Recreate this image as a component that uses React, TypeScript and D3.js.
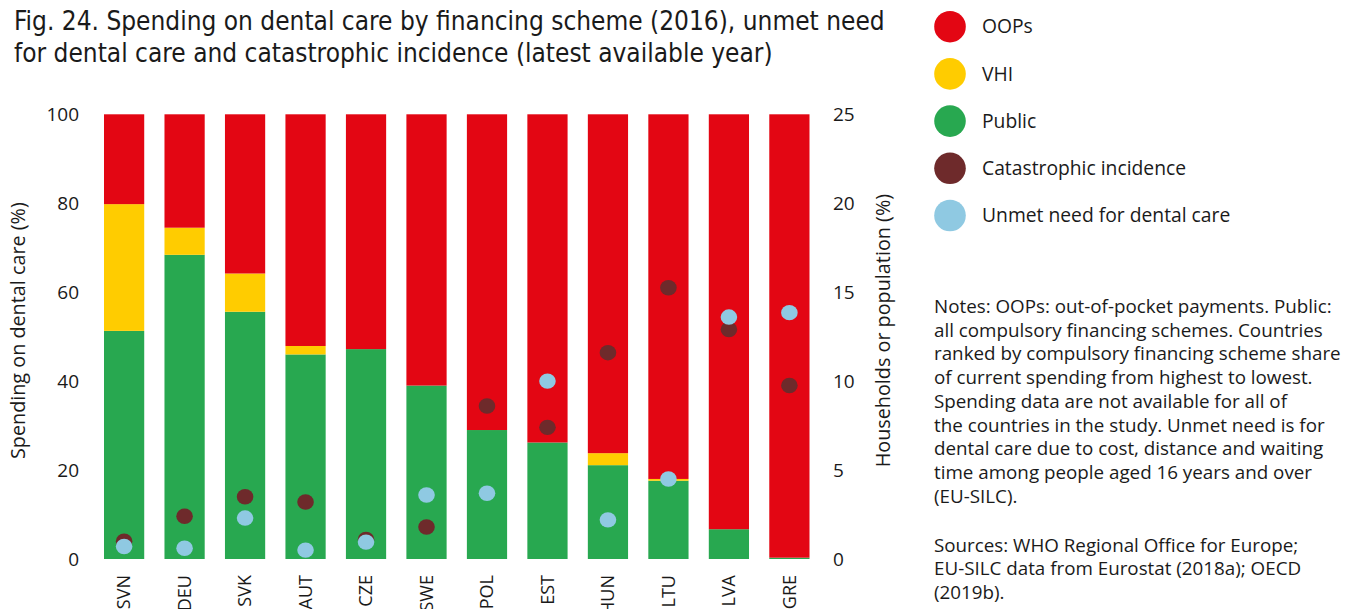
import * as d3 from "d3";

const countries = ["SVN", "DEU", "SVK", "AUT", "CZE", "SWE", "POL", "EST", "HUN", "LTU", "LVA", "GRE"];
const publicShare = [51.3, 68.4, 55.6, 46.0, 47.2, 39.0, 29.0, 26.2, 21.1, 17.6, 6.7, 0.3];
const vhiShare = [28.5, 6.1, 8.6, 1.9, 0, 0, 0, 0, 2.7, 0.4, 0, 0];
const oopsShare = [20.2, 25.5, 35.8, 52.1, 52.8, 61.0, 71.0, 73.8, 76.2, 82.0, 93.3, 99.7];
const catastrophic = [1.0, 2.4, 3.5, 3.2, 1.1, 1.8, 8.6, 7.4, 11.6, 15.25, 12.9, 9.75];
const unmetNeed = [0.7, 0.6, 2.3, 0.5, 0.95, 3.6, 3.7, 10.0, 2.2, 4.5, 13.6, 13.85];

const leftTicks = [0, 20, 40, 60, 80, 100];
const rightTicks = [0, 5, 10, 15, 20, 25];

const titleLines = [
  "Fig. 24. Spending on dental care by financing scheme (2016), unmet need",
  "for dental care and catastrophic incidence (latest available year)",
];

const noteLines = [
  "Notes: OOPs: out-of-pocket payments. Public:",
  "all compulsory financing schemes. Countries",
  "ranked by compulsory financing scheme share",
  "of current spending from highest to lowest.",
  "Spending data are not available for all of",
  "the countries in the study. Unmet need is for",
  "dental care due to cost, distance and waiting",
  "time among people aged 16 years and over",
  "(EU-SILC).",
];
const sourceLines = [
  "Sources: WHO Regional Office for Europe;",
  "EU-SILC data from Eurostat (2018a); OECD",
  "(2019b).",
];

const COLORS = {
  oops: "#E30613",
  vhi: "#FFCC00",
  public: "#28A850",
  cat: "#6E2A2B",
  unmet: "#8FC9E2",
};

const legendItems = [
  { label: "OOPs", color: COLORS.oops },
  { label: "VHI", color: COLORS.vhi },
  { label: "Public", color: COLORS.public },
  { label: "Catastrophic incidence", color: COLORS.cat },
  { label: "Unmet need for dental care", color: COLORS.unmet },
];

const FONT = "'Open Sans', 'Noto Sans', sans-serif";
const TITLE_FONT = "'Liberation Sans Narrow', 'DejaVu Sans Condensed', 'Roboto', sans-serif";

export default function App() {
  const width = 1372;
  const height = 609;

  const x = d3.scaleBand<string>().domain(countries).range([104, 809.5]).paddingInner(0.335).paddingOuter(0);
  const y = d3.scaleLinear().domain([0, 100]).range([559, 114.3]);
  const y2 = d3.scaleLinear().domain([0, 25]).range([559, 114.3]);

  const rows = countries.map((c, i) => ({
    country: c,
    public: publicShare[i],
    vhi: vhiShare[i],
    oops: oopsShare[i],
  }));
  const series = d3.stack<any>().keys(["public", "vhi", "oops"])(rows);

  const r = 8.3;

  return (
    <svg
      width={width}
      height={height}
      style={{ position: "absolute", left: 0, top: 0, background: "#fff" }}
      fontFamily={FONT}
    >
      {/* title */}
      <g fontFamily={TITLE_FONT} fontSize={26} fill="#1a1a1a">
        {titleLines.map((t, i) => (
          <text key={i} x={14} y={30 + i * 32}>
            {t}
          </text>
        ))}
      </g>

      {/* stacked bars */}
      {series.map((s) => (
        <g key={s.key} fill={(COLORS as any)[s.key]}>
          {s.map((d, i) =>
            d[1] - d[0] > 0 ? (
              <rect
                key={i}
                x={x(countries[i])}
                width={x.bandwidth()}
                y={y(d[1])}
                height={y(d[0]) - y(d[1])}
              />
            ) : null
          )}
        </g>
      ))}

      {/* dots: catastrophic under, unmet on top */}
      <g fill={COLORS.cat}>
        {catastrophic.map((v, i) => (
          <ellipse key={i} cx={x(countries[i])! + x.bandwidth() / 2} cy={y2(v)} rx={r} ry={r * 0.93} />
        ))}
      </g>
      <g fill={COLORS.unmet}>
        {unmetNeed.map((v, i) => (
          <ellipse key={i} cx={x(countries[i])! + x.bandwidth() / 2} cy={y2(v)} rx={r} ry={r * 0.93} />
        ))}
      </g>

      {/* left axis */}
      <g fontSize={19} fill="#1a1a1a" textAnchor="end">
        {leftTicks.map((t) => (
          <text key={t} x={79} y={y(t)} dy="0.35em">
            {t}
          </text>
        ))}
      </g>
      <text
        transform={`translate(25,${y(50) - 6}) rotate(-90)`}
        textAnchor="middle"
        fontSize={19.8}
        fill="#1a1a1a"
      >
        Spending on dental care (%)
      </text>

      {/* right axis */}
      <g fontSize={19} fill="#1a1a1a" textAnchor="start">
        {rightTicks.map((t) => (
          <text key={t} x={833} y={y2(t)} dy="0.35em">
            {t}
          </text>
        ))}
      </g>
      <text
        transform={`translate(890,${y2(12.5) - 6}) rotate(-90)`}
        textAnchor="middle"
        fontSize={19.8}
        fill="#1a1a1a"
      >
        Households or population (%)
      </text>

      {/* x labels */}
      <g fontSize={18} fill="#1a1a1a" textAnchor="end">
        {countries.map((c) => (
          <text
            key={c}
            transform={`translate(${x(c)! + x.bandwidth() / 2},575) rotate(-90)`}
            dy="0.35em"
          >
            {c}
          </text>
        ))}
      </g>

      {/* legend */}
      <g>
        {legendItems.map((l, i) => (
          <g key={l.label} transform={`translate(950,${26.7 + i * 47.2})`}>
            <circle r={15.8} fill={l.color} />
            <text x={32} dy="0.35em" fontSize={19.3} fill="#1a1a1a">
              {l.label}
            </text>
          </g>
        ))}
      </g>

      {/* notes */}
      <g fontSize={18.8} fill="#1a1a1a">
        {noteLines.map((t, i) => (
          <text key={i} x={934} y={313 + i * 23.7}>
            {t}
          </text>
        ))}
        {sourceLines.map((t, i) => (
          <text key={i} x={934} y={551.5 + i * 23.5}>
            {t}
          </text>
        ))}
      </g>
    </svg>
  );
}
